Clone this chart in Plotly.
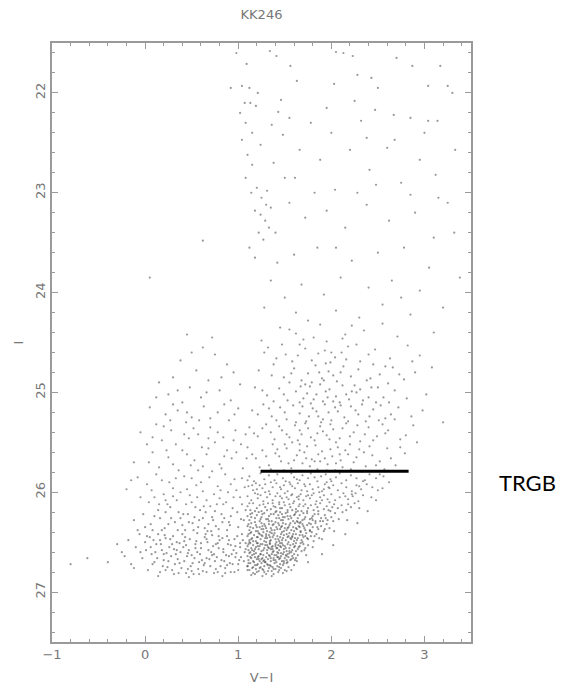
import plotly.graph_objects as go

# Colour-magnitude diagram of the dwarf galaxy KK246: V-I colour against I magnitude.
TITLE = "KK246"
X_LABEL = "V\u2212I"
Y_LABEL = "I"
TRGB_LABEL = "TRGB"
TRGB_MAG = 25.79          # tip of the red giant branch
TRGB_VI = [1.24, 2.83]    # colour extent of the TRGB marker

# (V-I, I) for stars brighter than the galaxy's giants (mostly Galactic foreground)
FOREGROUND = [
    (1.09,21.71),(1.41,21.63),(1.56,21.73),(1.34,21.58),(2.05,21.59),(2.13,21.60),(2.23,21.63),(2.87,21.73),
    (3.17,21.73),(0.92,21.95),(1.04,21.93),(1.12,21.95),(1.21,22.00),(1.07,22.10),(1.13,22.10),(1.19,22.13),
    (1.46,22.07),(1.43,22.19),(1.63,21.88),(2.03,21.91),(2.28,21.82),(2.43,21.85),(2.50,21.95),(2.25,22.08),
    (2.47,22.17),(2.67,22.22),(2.85,22.25),(3.04,21.93),(3.25,21.93),(2.32,22.28),(3.04,22.28),(3.14,22.28),
    (1.36,22.32),(1.04,22.47),(1.10,22.62),(1.15,22.72),(1.48,22.42),(1.66,22.57),(1.88,22.67),(2.20,22.57),
    (2.41,22.77),(2.68,22.47),(2.95,22.67),(3.12,22.82),(3.33,22.57),(2.48,22.92),(2.85,23.02),(2.04,22.97),
    (1.61,22.85),(1.24,22.52),(1.20,22.95),(1.25,23.05),(1.30,23.12),(1.18,23.18),(1.24,23.22),(1.29,23.28),
    (1.33,23.35),(1.22,23.40),(1.27,23.47),(1.35,23.15),(1.14,23.00),(1.31,22.98),(1.55,23.10),(1.72,23.25),
    (1.95,23.18),(2.15,23.35),(2.38,23.12),(2.62,23.28),(2.90,23.20),(3.15,23.05),(3.32,23.40),(2.78,23.55),
    (2.50,23.60),(2.22,23.68),(1.85,23.55),(1.60,23.62),(1.42,23.70),(3.05,23.75),(3.38,23.85),(2.95,23.98),
    (2.65,23.88),(2.40,23.95),(2.10,23.85),(1.92,24.02),(1.68,23.92),(1.50,24.05),(1.35,23.88),(3.20,24.15),
    (2.85,24.22),(2.55,24.12),(2.30,24.25),(0.62,23.48),(0.05,23.85),(1.78,22.30),(2.00,22.40),(2.60,22.55),
    (3.00,22.40),(1.15,22.40),(1.08,22.30),(1.38,22.70),(2.75,22.90),(3.25,23.10),(1.50,22.85),(1.82,23.00),
    (2.28,23.00),(1.62,24.20),(2.05,24.18),(1.28,24.15),
    (1.02,22.20),(1.08,22.85),(1.12,23.55),(1.40,23.40),(1.95,22.15),(2.70,21.65),(3.30,22.00),(2.05,23.55),
    (2.75,24.05),(3.10,23.45),(1.75,24.28),(1.18,23.65),(0.98,21.60),(2.38,22.45),(1.55,22.25),
]

# AGB and red stars above the tip
ABOVE_TIP = [
    (1.45,24.35),(1.62,24.41),(1.88,24.32),(2.12,24.46),(2.35,24.38),(2.71,24.44),(1.25,24.48),(1.95,24.49),
    (2.55,24.31),(3.10,24.40),(1.70,24.47),(2.22,24.33),
    (1.32,24.55),(1.51,24.62),(1.66,24.52),(1.79,24.68),(1.93,24.58),(2.04,24.65),(2.18,24.54),(2.31,24.69),
    (2.47,24.57),(2.63,24.66),(2.82,24.53),(1.58,24.69),(1.86,24.61),(2.11,24.60),(2.40,24.62),(1.41,24.66),
    (2.95,24.63),(1.72,24.56),
    (1.22,24.78),(1.38,24.72),(1.49,24.85),(1.60,24.76),(1.68,24.88),(1.75,24.81),(1.83,24.73),(1.90,24.86),
    (1.97,24.79),(2.06,24.89),(2.13,24.74),(2.21,24.84),(2.29,24.77),(2.38,24.88),(2.52,24.82),(2.66,24.75),
    (2.78,24.87),(1.79,24.90),(1.94,24.71),(2.02,24.83),(1.55,24.90),(2.45,24.72),(1.87,24.80),(2.90,24.80),
    (1.18,24.95),(1.31,25.03),(1.44,24.96),(1.53,25.08),(1.62,24.99),(1.70,25.06),(1.77,24.94),(1.84,25.02),
    (1.91,25.09),(1.98,24.97),(2.05,25.04),(2.12,24.93),(2.19,25.07),(2.27,25.00),(2.34,25.08),(2.43,24.95),
    (2.56,25.05),(2.68,24.98),(2.81,25.06),(1.66,25.10),(1.88,24.92),(2.09,25.10),(1.74,25.01),(1.96,25.05),
    (2.22,24.99),(1.38,25.09),(2.48,25.10),(3.02,25.02),
    (1.15,25.18),(1.27,25.12),(1.36,25.24),(1.45,25.15),(1.52,25.27),(1.59,25.13),(1.66,25.21),(1.73,25.29),
    (1.80,25.16),(1.86,25.24),(1.93,25.12),(2.00,25.28),(2.07,25.19),(2.14,25.25),(2.21,25.14),(2.29,25.22),
    (2.37,25.29),(2.45,25.17),(2.58,25.26),(2.72,25.15),(2.86,25.24),(1.62,25.30),(1.78,25.11),(1.97,25.20),
    (2.10,25.13),(2.33,25.12),(2.51,25.28),(1.41,25.28),(1.89,25.30),(2.64,25.22),
    (1.12,25.35),(1.21,25.44),(1.30,25.32),(1.39,25.47),(1.47,25.38),(1.55,25.45),(1.61,25.33),(1.68,25.42),
    (1.75,25.36),(1.82,25.48),(1.88,25.34),(1.95,25.43),(2.02,25.37),(2.09,25.46),(2.16,25.31),(2.24,25.40),
    (2.31,25.49),(2.40,25.35),(2.49,25.44),(2.61,25.38),(2.74,25.47),(2.88,25.33),(1.58,25.50),(1.72,25.31),
    (1.85,25.41),(2.05,25.50),(2.20,25.44),(1.35,25.40),(1.99,25.32),(2.36,25.42),(1.64,25.48),(2.55,25.32),
    (1.10,25.55),(1.19,25.66),(1.26,25.58),(1.33,25.73),(1.40,25.61),(1.46,25.69),(1.52,25.56),(1.57,25.76),
    (1.63,25.63),(1.69,25.71),(1.74,25.54),(1.79,25.67),(1.85,25.77),(1.90,25.59),(1.96,25.72),(2.01,25.64),
    (2.07,25.55),(2.12,25.75),(2.18,25.62),(2.24,25.70),(2.30,25.57),(2.37,25.74),(2.44,25.63),(2.52,25.69),
    (2.60,25.56),(2.69,25.73),(2.79,25.61),(1.37,25.52),(1.49,25.78),(1.60,25.68),(1.71,25.60),(1.83,25.53),
    (1.93,25.66),(2.04,25.78),(2.15,25.58),(2.27,25.65),(2.41,25.54),(2.57,25.77),(1.23,25.75),(1.66,25.52),
    (1.88,25.69),(2.09,25.62),(2.33,25.79),(1.44,25.64),(1.76,25.79),
    (1.28,24.60),(1.47,24.52),(1.64,24.63),(1.81,24.45),(1.99,24.70),(2.16,24.67),(2.27,24.52),(2.58,24.74),
    (2.87,24.69),(1.36,24.83),(1.57,24.81),(1.72,24.92),(1.92,24.88),(2.10,24.80),(2.25,24.93),(2.42,24.86),
    (2.61,24.91),(2.73,24.82),(1.26,24.98),(1.49,25.02),(1.67,24.94),(1.81,25.07),(1.94,24.99),(2.02,25.09),
    (2.16,25.02),(2.31,24.97),(2.40,25.05),(2.62,25.10),(1.21,25.22),(1.33,25.16),(1.50,25.20),(1.69,25.14),
    (1.76,25.24),(1.84,25.19),(1.91,25.27),(2.04,25.15),(2.18,25.29),(2.26,25.18),(2.41,25.24),(2.53,25.13),
    (2.68,25.27),(1.17,25.41),(1.26,25.36),(1.44,25.34),(1.52,25.42),(1.66,25.38),(1.78,25.45),(1.91,25.39),
    (1.98,25.47),(2.12,25.36),(2.28,25.33),(2.45,25.48),(2.58,25.41),(2.80,25.43),(1.15,25.62),(1.30,25.64),
    (1.42,25.57),(1.54,25.71),(1.66,25.58),(1.77,25.74),(1.86,25.62),(1.99,25.57),(2.10,25.68),(2.21,25.77),
    (2.35,25.60),(2.48,25.73),(2.64,25.66),(2.74,25.55),(1.35,25.77),(1.62,25.79),(1.95,25.78),(2.20,25.52),
    (1.50,25.52),(1.82,25.69),(2.05,25.71),(1.73,25.66),(2.00,24.60),(2.50,24.95),(2.15,24.42),(1.55,24.37),
    (2.98,25.18),(3.08,24.75),(2.92,25.50),(3.20,25.30),
]

# Young blue stars (main sequence / blue loop)
BLUE_PLUME = [
    (0.45,24.42),(0.62,24.55),(0.38,24.68),(0.75,24.62),(0.55,24.78),(0.88,24.72),(0.30,24.85),(0.68,24.88),
    (0.95,24.80),(0.48,24.95),(0.80,24.98),(0.60,25.05),(0.25,25.02),(0.92,25.08),(0.40,25.10),(0.72,24.45),
    (1.02,24.92),(0.15,24.90),
    (0.05,25.15),(0.22,25.22),(0.35,25.18),(0.50,25.25),(0.63,25.14),(0.78,25.20),(0.90,25.28),(1.00,25.16),
    (0.12,25.32),(0.28,25.38),(0.44,25.30),(0.57,25.42),(0.70,25.35),(0.84,25.45),(0.97,25.38),(-0.05,25.40),
    (0.18,25.48),(0.33,25.52),(0.47,25.46),(0.61,25.55),(0.75,25.50),(0.88,25.58),(1.03,25.52),(0.08,25.60),
    (0.25,25.65),(0.40,25.58),(0.53,25.68),(0.66,25.62),(0.80,25.72),(0.93,25.66),(-0.12,25.70),(0.15,25.75),
    (0.36,25.78),(0.49,25.73),(0.72,25.79),(0.85,25.64),(1.05,25.76),(0.58,25.28),(0.30,25.12),(0.68,25.46),
    (0.02,25.52),(0.42,25.42),(0.95,25.48),(0.20,25.34),(0.62,25.74),
    (-0.20,25.97),(-0.08,25.85),(0.02,25.92),(0.10,26.05),(0.18,25.88),(0.24,26.12),(0.30,25.96),(0.36,26.20),
    (0.42,25.84),(0.48,26.03),(0.54,26.15),(0.60,25.90),(0.66,26.08),(0.72,26.25),(0.78,25.94),(0.84,26.12),
    (0.90,26.30),(0.96,25.87),(1.02,26.05),(1.08,26.18),(-0.02,26.22),(0.06,26.32),(0.14,26.18),(0.21,26.36),
    (0.28,26.26),(0.34,26.08),(0.40,26.33),(0.46,26.22),(0.52,26.38),(0.58,26.28),(0.64,26.36),(0.70,26.14),
    (0.76,26.34),(0.82,26.22),(0.88,26.38),(0.94,26.16),(1.00,26.35),(1.06,26.28),(0.12,25.82),(0.26,25.90),
    (0.38,26.00),(0.50,25.86),(0.62,25.99),(0.74,26.02),(0.86,25.82),(0.98,25.98),(0.04,26.10),(0.16,26.26),
    (0.32,26.30),(0.44,26.12),(0.56,26.05),(0.68,26.32),(0.80,26.06),(0.92,26.24),(1.04,26.12),(-0.12,26.28),
    (0.08,26.38),(0.20,26.02),(0.47,26.30),(0.59,26.18),(0.71,26.39),(0.83,26.30),(0.95,26.05),(0.22,26.20),
    (0.35,26.38),(0.53,26.25),(0.65,26.20),(0.77,26.12),(0.89,26.00),(1.07,25.95),(0.00,26.35),(0.27,26.15),
    (0.41,26.22),(0.57,26.35),(0.73,26.28),
    (-0.80,26.72),(-0.25,26.60),(-0.18,26.48),(-0.15,26.72),(-0.10,26.55),(-0.06,26.42),(-0.03,26.66),(0.00,26.50),
    (0.03,26.78),(0.05,26.45),(0.07,26.62),(0.10,26.70),(0.12,26.52),(0.14,26.42),(0.16,26.80),(0.18,26.58),
    (0.20,26.68),(0.22,26.46),(0.24,26.75),(0.26,26.55),(0.28,26.64),(0.30,26.44),(0.32,26.72),(0.34,26.50),
    (0.36,26.81),(0.38,26.60),(0.40,26.42),(0.42,26.69),(0.44,26.53),(0.46,26.77),(0.48,26.47),(0.50,26.63),
    (0.52,26.82),(0.54,26.56),(0.56,26.41),(0.58,26.70),(0.60,26.51),(0.62,26.79),(0.64,26.45),(0.66,26.66),
    (0.68,26.58),(0.70,26.74),(0.72,26.43),(0.74,26.62),(0.76,26.52),(0.78,26.80),(0.80,26.48),(0.82,26.68),
    (0.84,26.57),(0.86,26.76),(0.88,26.44),(0.90,26.64),(0.92,26.53),(0.94,26.72),(0.96,26.47),(0.98,26.61),
    (1.00,26.78),(1.02,26.55),(1.04,26.42),(1.06,26.69),(1.08,26.51),(1.10,26.74),
    (0.01,26.58),(0.09,26.48),(0.13,26.66),(0.19,26.74),(0.23,26.61),(0.27,26.47),(0.31,26.57),(0.35,26.67),
    (0.39,26.76),(0.43,26.45),(0.47,26.58),(0.51,26.71),(0.55,26.49),(0.59,26.62),(0.63,26.73),(0.67,26.50),
    (0.71,26.60),(0.75,26.69),(0.79,26.56),(0.83,26.46),(0.87,26.63),(0.91,26.71),(0.95,26.58),(0.99,26.44),
    (1.03,26.65),(1.07,26.60),(0.17,26.52),(0.29,26.78),(0.41,26.55),(0.53,26.66),(0.65,26.42),(0.77,26.65),
    (0.89,26.52),(1.01,26.68),(0.21,26.43),(0.33,26.62),(0.45,26.64),(0.57,26.77),(0.69,26.67),(0.81,26.74),
    (0.93,26.62),(1.05,26.48),(-0.22,26.64),(-0.12,26.76),(-0.40,26.70),(0.37,26.51),(0.61,26.68),(0.73,26.54),
    (0.85,26.69),(0.97,26.54),(0.49,26.74),(0.25,26.69),(0.11,26.60),(0.79,26.44),(0.66,26.80),(0.44,26.81),
    (0.86,26.81),(0.56,26.60),(0.96,26.80),
    (0.50,24.60),(0.82,24.85),(0.35,24.98),(0.66,25.00),(0.12,25.05),(0.85,25.12),(0.45,25.20),(0.27,25.28),
    (0.70,25.26),(0.96,25.22),(0.08,25.45),(0.52,25.36),(0.78,25.40),(1.08,25.42),(0.23,25.58),(0.45,25.62),
    (0.68,25.56),(0.98,25.60),(0.04,25.70),(0.30,25.72),(0.57,25.78),(0.82,25.76),(1.09,25.66),(-0.15,25.88),
    (0.07,25.98),(0.22,26.08),(0.33,25.86),(0.45,25.97),(0.55,25.93),(0.69,25.85),(0.81,25.98),(0.92,25.92),
    (1.04,25.86),(-0.05,26.05),(0.15,26.12),(0.30,26.04),(0.50,26.10),(0.63,26.14),(0.75,26.19),(0.87,26.10),
    (0.99,26.20),(0.10,26.24),(0.25,26.32),(0.38,26.26),(0.51,26.31),(0.62,26.26),(0.79,26.37),(0.91,26.33),
    (1.03,26.27),(-0.08,26.38),(0.18,26.38),(0.43,26.38),(0.67,26.39),(0.85,26.26),(0.02,26.44),(0.16,26.48),
    (0.29,26.52),(0.42,26.49),(0.54,26.52),(0.66,26.47),(0.78,26.51),(0.90,26.48),(1.02,26.51),(0.06,26.55),
    (0.20,26.62),(0.34,26.58),(0.46,26.61),(0.60,26.56),(0.72,26.63),(0.84,26.60),(0.97,26.65),(1.08,26.57),
    (0.08,26.72),(0.22,26.78),(0.37,26.71),(0.50,26.79),(0.64,26.71),(0.76,26.77),(0.88,26.73),(1.00,26.72),
    (0.31,26.82),(0.58,26.82),(0.74,26.81),(0.92,26.80),(-0.05,26.60),(-0.30,26.52),(-0.62,26.66),(0.14,26.84),
    (0.47,26.85),(0.83,26.84),
]

# Red giant branch below the tip
RGB_BELOW_TIP = [
    (1.12,25.84),(1.17,25.89),(1.24,25.81),(1.28,25.87),(1.33,25.83),(1.39,25.88),(1.42,25.82),(1.48,25.86),
    (1.51,25.89),(1.57,25.81),(1.60,25.85),(1.66,25.88),(1.69,25.83),(1.75,25.86),(1.78,25.81),(1.85,25.89),
    (1.89,25.84),(1.94,25.82),(1.99,25.87),(2.05,25.85),(2.09,25.81),(2.16,25.88),(2.21,25.83),(2.27,25.86),
    (2.34,25.89),(2.41,25.82),(2.48,25.86),(2.56,25.84),(1.55,25.90),(1.82,25.85),
    (1.11,25.94),(1.16,25.98),(1.19,25.91),(1.26,25.96),(1.29,25.92),(1.33,25.99),(1.37,25.95),(1.41,25.91),
    (1.46,25.97),(1.49,25.93),(1.53,25.99),(1.56,25.92),(1.61,25.96),(1.64,25.91),(1.68,25.98),(1.72,25.94),
    (1.77,25.92),(1.80,25.97),(1.86,25.95),(1.90,25.99),(1.93,25.92),(1.98,25.96),(2.02,25.93),(2.07,25.98),
    (2.11,25.91),(2.16,25.95),(2.22,25.99),(2.27,25.93),(2.32,25.97),(2.38,25.92),(2.44,25.95),(1.23,25.93),
    (1.58,25.94),(1.74,25.99),(1.95,25.90),
    (1.10,26.04),(1.14,26.08),(1.18,26.01),(1.21,26.06),(1.24,26.03),(1.27,26.09),(1.31,26.05),(1.34,26.02),
    (1.37,26.08),(1.40,26.04),(1.44,26.10),(1.47,26.06),(1.50,26.01),(1.54,26.07),(1.57,26.03),(1.60,26.09),
    (1.63,26.05),(1.67,26.02),(1.70,26.08),(1.73,26.04),(1.77,26.06),(1.81,26.01),(1.84,26.09),(1.88,26.05),
    (1.92,26.03),(1.96,26.07),(2.00,26.02),(2.04,26.08),(2.09,26.05),(2.13,26.01),(2.18,26.07),(2.23,26.04),
    (2.29,26.09),(2.34,26.03),(1.29,26.00),(1.52,26.05),(1.65,26.07),(1.79,26.03),(1.42,26.01),(1.98,26.10),
    (1.10,26.14),(1.13,26.18),(1.16,26.11),(1.20,26.16),(1.23,26.13),(1.25,26.19),(1.29,26.15),(1.32,26.11),
    (1.35,26.17),(1.38,26.14),(1.41,26.19),(1.44,26.12),(1.47,26.16),(1.50,26.13),(1.53,26.18),(1.56,26.15),
    (1.59,26.11),(1.62,26.17),(1.65,26.14),(1.68,26.19),(1.72,26.12),(1.75,26.16),(1.78,26.13),(1.81,26.18),
    (1.85,26.15),(1.88,26.11),(1.92,26.17),(1.95,26.14),(1.99,26.19),(2.03,26.12),(2.07,26.16),(2.11,26.13),
    (2.16,26.18),(2.21,26.15),(2.25,26.11),(1.18,26.19),(1.27,26.12),(1.40,26.15),(1.49,26.10),(1.58,26.18),
    (1.66,26.12),(1.74,26.19),(1.83,26.12),(1.37,26.11),(1.62,26.20),
    (1.10,26.24),(1.12,26.28),(1.15,26.21),(1.18,26.26),(1.20,26.23),(1.23,26.29),(1.25,26.25),(1.28,26.21),
    (1.30,26.27),(1.33,26.24),(1.36,26.29),(1.38,26.22),(1.41,26.26),(1.43,26.23),(1.46,26.28),(1.48,26.25),
    (1.51,26.21),(1.54,26.27),(1.56,26.24),(1.59,26.29),(1.61,26.22),(1.64,26.26),(1.66,26.23),(1.69,26.28),
    (1.72,26.25),(1.74,26.21),(1.77,26.27),(1.80,26.24),(1.83,26.29),(1.86,26.22),(1.89,26.26),(1.93,26.23),
    (1.96,26.28),(2.00,26.25),(2.04,26.21),(2.08,26.27),(1.14,26.25),(1.22,26.20),(1.32,26.27),(1.40,26.30),
    (1.47,26.22),(1.53,26.24),(1.63,26.29),(1.70,26.21),(1.79,26.26),(1.91,26.29),(1.26,26.22),(1.57,26.26),
    (1.45,26.20),(1.67,26.30),
    (1.10,26.34),(1.12,26.38),(1.14,26.31),(1.16,26.36),(1.19,26.33),(1.21,26.39),(1.23,26.35),(1.25,26.31),
    (1.27,26.37),(1.29,26.34),(1.31,26.39),(1.33,26.32),(1.35,26.36),(1.37,26.33),(1.39,26.38),(1.41,26.35),
    (1.43,26.31),(1.45,26.37),(1.47,26.34),(1.49,26.39),(1.51,26.32),(1.53,26.36),(1.55,26.33),(1.57,26.38),
    (1.59,26.35),(1.61,26.31),(1.63,26.37),(1.65,26.34),(1.67,26.39),(1.69,26.32),(1.71,26.36),(1.74,26.33),
    (1.77,26.38),(1.80,26.35),(1.83,26.31),(1.86,26.37),(1.89,26.34),(1.92,26.39),(1.95,26.32),(1.98,26.36),
    (1.18,26.30),(1.26,26.34),(1.34,26.40),(1.42,26.37),(1.48,26.31),(1.54,26.35),(1.60,26.39),(1.66,26.31),
    (1.72,26.38),(1.13,26.35),(1.38,26.32),(1.52,26.38),(1.64,26.30),(1.78,26.32),(1.30,26.36),
    (1.10,26.44),(1.12,26.48),(1.13,26.41),(1.15,26.46),(1.17,26.43),(1.19,26.49),(1.21,26.45),(1.22,26.41),
    (1.24,26.47),(1.26,26.44),(1.28,26.49),(1.30,26.42),(1.31,26.46),(1.33,26.43),(1.35,26.48),(1.37,26.45),
    (1.39,26.41),(1.40,26.47),(1.42,26.44),(1.44,26.49),(1.46,26.42),(1.48,26.46),(1.49,26.43),(1.51,26.48),
    (1.53,26.45),(1.55,26.41),(1.57,26.47),(1.58,26.44),(1.60,26.49),(1.62,26.42),(1.64,26.46),(1.66,26.43),
    (1.68,26.48),(1.70,26.45),(1.73,26.41),(1.75,26.47),(1.78,26.44),(1.81,26.49),(1.84,26.42),(1.87,26.46),
    (1.14,26.40),(1.20,26.45),(1.27,26.40),(1.34,26.45),(1.41,26.50),(1.47,26.40),(1.54,26.44),(1.61,26.46),
    (1.67,26.40),(1.72,26.44),(1.25,26.43),(1.36,26.41),(1.45,26.45),(1.59,26.42),(1.79,26.40),
    (1.10,26.54),(1.11,26.58),(1.13,26.51),(1.14,26.56),(1.16,26.53),(1.17,26.59),(1.19,26.55),(1.20,26.51),
    (1.22,26.57),(1.23,26.54),(1.25,26.59),(1.26,26.52),(1.28,26.56),(1.29,26.53),(1.31,26.58),(1.32,26.55),
    (1.34,26.51),(1.35,26.57),(1.37,26.54),(1.38,26.59),(1.40,26.52),(1.41,26.56),(1.43,26.53),(1.44,26.58),
    (1.46,26.55),(1.47,26.51),(1.49,26.57),(1.50,26.54),(1.52,26.59),(1.53,26.52),(1.55,26.56),(1.56,26.53),
    (1.58,26.58),(1.60,26.55),(1.62,26.51),(1.64,26.57),(1.66,26.54),(1.68,26.59),(1.70,26.52),(1.72,26.56),
    (1.75,26.53),(1.12,26.50),(1.18,26.57),(1.24,26.52),(1.30,26.50),(1.36,26.55),(1.42,26.60),(1.48,26.53),
    (1.54,26.50),(1.59,26.52),(1.65,26.55),(1.21,26.54),(1.33,26.56),(1.45,26.54),(1.57,26.60),
    (1.10,26.64),(1.11,26.68),(1.12,26.61),(1.14,26.66),(1.15,26.63),(1.16,26.69),(1.18,26.65),(1.19,26.61),
    (1.20,26.67),(1.22,26.64),(1.23,26.69),(1.24,26.62),(1.26,26.66),(1.27,26.63),(1.28,26.68),(1.30,26.65),
    (1.31,26.61),(1.32,26.67),(1.34,26.64),(1.35,26.69),(1.36,26.62),(1.38,26.66),(1.39,26.63),(1.40,26.68),
    (1.42,26.65),(1.43,26.61),(1.44,26.67),(1.46,26.64),(1.47,26.69),(1.48,26.62),(1.50,26.66),(1.51,26.63),
    (1.52,26.68),(1.54,26.65),(1.55,26.61),(1.57,26.67),(1.58,26.64),(1.60,26.62),(1.62,26.66),(1.64,26.63),
    (1.13,26.60),(1.21,26.65),(1.29,26.70),(1.37,26.60),(1.45,26.66),(1.53,26.70),(1.61,26.68),(1.25,26.67),
    (1.41,26.63),(1.49,26.60),
    (1.10,26.74),(1.12,26.78),(1.13,26.71),(1.15,26.76),(1.16,26.81),(1.18,26.73),(1.19,26.77),(1.21,26.72),
    (1.22,26.79),(1.24,26.75),(1.25,26.71),(1.27,26.78),(1.28,26.74),(1.30,26.82),(1.31,26.72),(1.33,26.76),
    (1.34,26.73),(1.36,26.79),(1.37,26.75),(1.39,26.71),(1.40,26.77),(1.42,26.74),(1.43,26.80),(1.45,26.72),
    (1.46,26.76),(1.48,26.73),(1.50,26.78),(1.52,26.71),(1.54,26.75),(1.14,26.83),(1.20,26.80),(1.26,26.84),
    (1.32,26.79),(1.38,26.82),(1.44,26.78),(1.17,26.70),(1.23,26.76),(1.29,26.70),(1.35,26.74),(1.41,26.70),
    (2.55,25.96),(2.48,26.08),(2.39,26.19),(2.28,26.31),(2.15,26.42),(2.02,26.53),(1.90,26.62),(1.75,26.70),
    (1.15,25.93),(1.35,25.90),(1.71,25.92),(2.00,25.89),(2.30,25.94),(1.21,26.02),(1.45,26.04),(1.75,26.03),
    (1.90,26.08),(2.15,26.04),(2.26,26.01),(1.12,26.11),(1.31,26.18),(1.45,26.16),(1.55,26.12),(1.70,26.14),
    (1.86,26.19),(2.01,26.15),(2.18,26.12),(1.13,26.22),(1.24,26.27),(1.35,26.22),(1.44,26.26),(1.50,26.25),
    (1.60,26.23),(1.71,26.27),(1.82,26.22),(1.94,26.26),(2.02,26.29),(1.11,26.32),(1.20,26.35),(1.28,26.32),
    (1.36,26.38),(1.44,26.33),(1.50,26.36),(1.56,26.31),(1.62,26.36),(1.70,26.34),(1.76,26.31),(1.85,26.35),
    (1.93,26.37),(1.11,26.42),(1.16,26.49),(1.23,26.42),(1.29,26.46),(1.34,26.49),(1.38,26.43),(1.43,26.47),
    (1.47,26.48),(1.52,26.42),(1.56,26.46),(1.63,26.48),(1.69,26.43),(1.74,26.46),(1.82,26.44),(1.11,26.52),
    (1.15,26.58),(1.21,26.51),(1.27,26.58),(1.31,26.53),(1.37,26.57),(1.40,26.54),(1.45,26.51),(1.51,26.56),
    (1.55,26.59),(1.61,26.54),(1.67,26.51),(1.71,26.58),(1.13,26.65),(1.17,26.62),(1.22,26.67),(1.27,26.69),
    (1.33,26.63),(1.38,26.68),(1.43,26.65),(1.49,26.69),(1.53,26.62),(1.59,26.66),(1.63,26.69),(1.11,26.71),
    (1.16,26.75),(1.20,26.73),(1.26,26.77),(1.32,26.73),(1.38,26.77),(1.44,26.75),(1.49,26.71),(1.18,26.82),
    (1.28,26.80),(1.36,26.84),(1.24,26.62),(1.34,26.52),(1.46,26.35),(1.58,26.45),(1.66,26.35),(1.52,26.64),
    (1.42,26.56),(1.30,26.44),(1.19,26.39),(1.48,26.28),(1.64,26.19),(1.80,26.28),(1.40,26.20),(1.58,26.02),
    (1.97,26.18),(2.12,26.20),(2.22,26.02),(2.36,25.88),(2.50,25.98),(2.43,26.05),(2.30,26.16),(2.17,26.28),
    (2.03,26.39),(1.90,26.47),(1.80,26.55),(1.73,26.63),(1.60,26.73),(1.57,26.78),(2.62,25.90),(2.52,25.82),
    (1.14,26.47),(1.25,26.37),(1.33,26.29),(1.53,26.20),(1.65,26.04),(1.87,26.00),(1.97,25.95),(1.10,26.78),
    (1.48,26.81),(1.52,26.79),(1.35,26.66),(1.46,26.61),(1.56,26.68),(1.62,26.59),(1.69,26.50),(1.77,26.39),
    (1.88,26.29),(1.10,25.88),(1.20,25.97),(1.45,25.95),(1.63,25.87),(1.92,25.97),
]

star_groups = [FOREGROUND, ABOVE_TIP, BLUE_PLUME, RGB_BELOW_TIP]
vi = [p[0] for group in star_groups for p in group]
mag = [p[1] for group in star_groups for p in group]

AXIS_GREY = "#9a9a9a"
TEXT_GREY = "#777777"

fig = go.Figure()
fig.add_trace(go.Scatter(
    x=vi, y=mag, mode="markers",
    marker=dict(size=2.2, color="rgba(50,50,50,0.5)", line=dict(width=0)),
    hoverinfo="skip", showlegend=False,
))
fig.add_trace(go.Scatter(
    x=TRGB_VI, y=[TRGB_MAG, TRGB_MAG], mode="lines",
    line=dict(color="black", width=3),
    hoverinfo="skip", showlegend=False,
))
fig.add_annotation(
    text=TRGB_LABEL, xref="paper", yref="y", x=1.134, y=TRGB_MAG + 0.11,
    xanchor="center", yanchor="middle", showarrow=False,
    font=dict(family="Lato", size=22, color="black"),
)

axis_style = dict(
    showgrid=False, zeroline=False, showline=True, linecolor=AXIS_GREY, linewidth=1.5,
    mirror="allticks", ticks="inside", ticklen=6, tickwidth=1, tickcolor=AXIS_GREY,
    tickfont=dict(family="DejaVu Sans", size=13, color=TEXT_GREY),
    minor=dict(ticks="inside", ticklen=3, tickwidth=1, tickcolor=AXIS_GREY, dtick=0.2, tick0=0),
    automargin=False,
)
fig.update_xaxes(
    range=[-1, 3.5], tick0=0, dtick=1,
    title=dict(text=X_LABEL, standoff=12, font=dict(family="DejaVu Sans", size=13, color=TEXT_GREY)),
    **axis_style,
)
fig.update_yaxes(
    range=[27.5, 21.5], tick0=0, dtick=1, tickangle=-90,
    title=dict(text=Y_LABEL, standoff=6, font=dict(family="DejaVu Sans", size=13, color=TEXT_GREY)),
    **axis_style,
)
fig.update_layout(
    width=562, height=691,
    margin=dict(l=52, r=91, t=43, b=49),
    paper_bgcolor="white", plot_bgcolor="white",
    title=dict(text=TITLE, x=0.5, xref="paper", y=1 - 14 / 691, yref="container",
               xanchor="center", yanchor="middle",
               font=dict(family="DejaVu Sans", size=13, color=TEXT_GREY)),
)
fig.write_html("out.html")
